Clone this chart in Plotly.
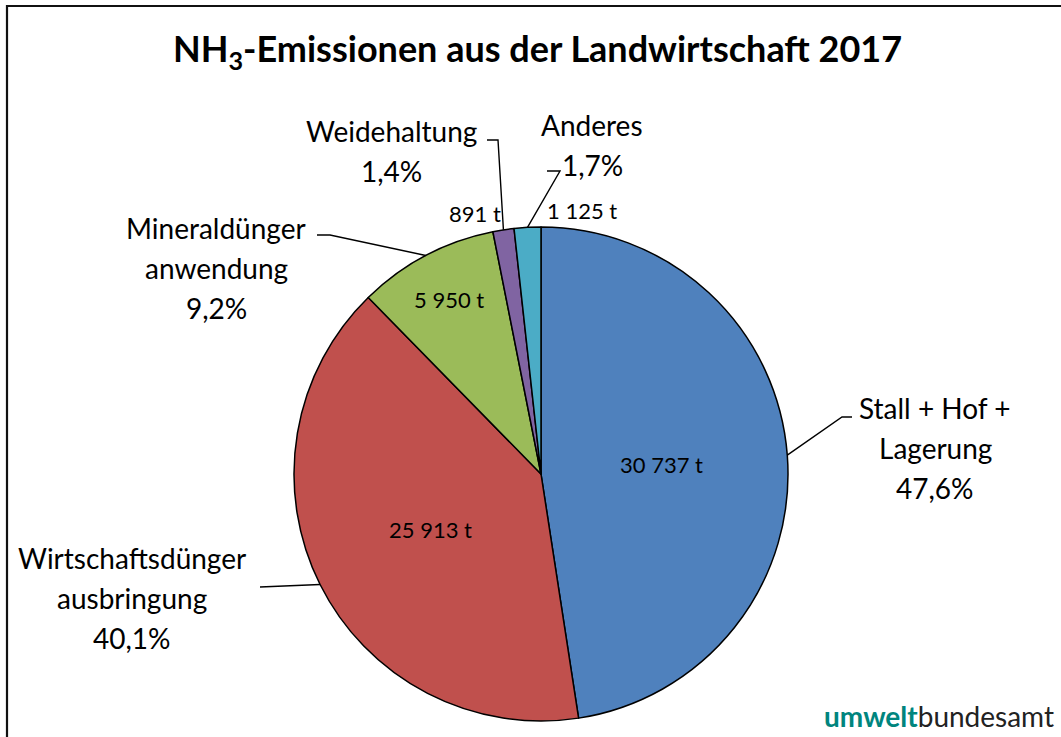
import math
import plotly.graph_objects as go

# ---- data ----
categories = ["Stall + Hof + Lagerung", "Wirtschaftsdünger ausbringung",
              "Mineraldünger anwendung", "Weidehaltung", "Anderes"]
label_lines = [["Stall + Hof +", "Lagerung"], ["Wirtschaftsdünger", "ausbringung"],
               ["Mineraldünger", "anwendung"], ["Weidehaltung"], ["Anderes"]]
values_t = [30737, 25913, 5950, 891, 1125]
title_text = "NH<sub>3</sub>-Emissionen aus der Landwirtschaft 2017"

# ---- style ----
colors = ["#4F81BD", "#C0504D", "#9BBB59", "#8064A2", "#4BACC6"]
W, H = 1061, 737
CX, CY, R = 541, 474, 247          # pie centre / radius in pixels
FONT = "Lato"
LABEL_SIZE = 28
VALUE_SIZE = 22
LINE_GAP = 40

def px(x):
    return x / W

def py(y):
    return 1 - y / H

total = sum(values_t)

def fmt_t(v):
    return f"{v:,}".replace(",", " ") + " t"

def fmt_pct(v):
    return f"{v / total * 100:.1f}".replace(".", ",") + "%"

# mid angles (clockwise from 12 o'clock)
mids = []
acc = 0
for v in values_t:
    mids.append((acc + v / 2) / total * 2 * math.pi)
    acc += v

def polar(frac_r, ang):
    return CX + frac_r * R * math.sin(ang), CY - frac_r * R * math.cos(ang)

fig = go.Figure(go.Pie(
    labels=categories, values=values_t, sort=False, direction="clockwise",
    rotation=0, textinfo="none", hoverinfo="label+value+percent",
    marker=dict(colors=colors, line=dict(color="#000000", width=1.5)),
    domain=dict(x=[px(CX - R), px(CX + R)], y=[py(CY + R), py(CY - R)]),
    showlegend=False,
))

annotations = []
shapes = []

def add_text(x, y, text, size, xanchor="center", **kw):
    annotations.append(dict(x=px(x), y=py(y), xref="paper", yref="paper",
                            xanchor=xanchor, yanchor="middle", text=text,
                            showarrow=False,
                            font=dict(family=FONT, size=size,
                                      color=kw.get("color", "#000"))))

# value labels (inside slices for large ones, beside leader lines for small ones)
inside_r = [0.49, 0.5, 0.80]
for i in range(3):
    x, y = polar(inside_r[i], mids[i])
    add_text(x, y, fmt_t(values_t[i]), VALUE_SIZE)
add_text(503, 213, fmt_t(values_t[3]), VALUE_SIZE, xanchor="right")
add_text(545, 211, fmt_t(values_t[4]), VALUE_SIZE, xanchor="left")

# category labels with percentages
label_pos = [(935, 408), (132, 558), (216, 228), (391, 131), (592, 125)]
for i in range(5):
    lx, ly = label_pos[i]
    lines = label_lines[i] + [fmt_pct(values_t[i])]
    for k, line in enumerate(lines):
        add_text(lx, ly + k * LINE_GAP, line, LABEL_SIZE)

# leader lines: pie edge (from data) -> elbow -> end
leader_pts = [[(842, 417), (852, 417)],
              [(260, 587)],
              [(330, 235), (317, 235)],
              [(498, 140), (487, 140)],
              [(560, 171), (547, 171)]]
for i in range(5):
    ex, ey = polar(1.0, mids[i])
    pts = [(ex, ey)] + leader_pts[i]
    path = "M " + " L ".join(f"{px(a):.5f},{py(b):.5f}" for a, b in pts)
    shapes.append(dict(type="path", path=path, xref="paper", yref="paper",
                       line=dict(color="#000", width=1.4)))

# frame
shapes.append(dict(type="rect", xref="paper", yref="paper",
                   x0=px(7), y0=py(H + 20), x1=px(W + 20), y1=py(6),
                   line=dict(color="#111", width=2.2)))

# title
add_text(537, 50, "<b>" + title_text + "</b>", 36)

# logo
annotations.append(dict(x=px(1056), y=py(716), xref="paper", yref="paper",
                        xanchor="right", yanchor="middle",
                        text="<span style='color:#00857e'><b>umwelt</b></span>"
                             "<span style='color:#222'>bundesamt</span>",
                        showarrow=False,
                        font=dict(family=FONT, size=28, color="#222")))

fig.update_layout(width=W, height=H, margin=dict(l=0, r=0, t=0, b=0),
                  paper_bgcolor="white", plot_bgcolor="white",
                  annotations=annotations, shapes=shapes)

fig.write_html("out.html", config={"displayModeBar": False},
               post_script="document.body.style.margin='0';"
                           "document.body.style.overflow='hidden';")
